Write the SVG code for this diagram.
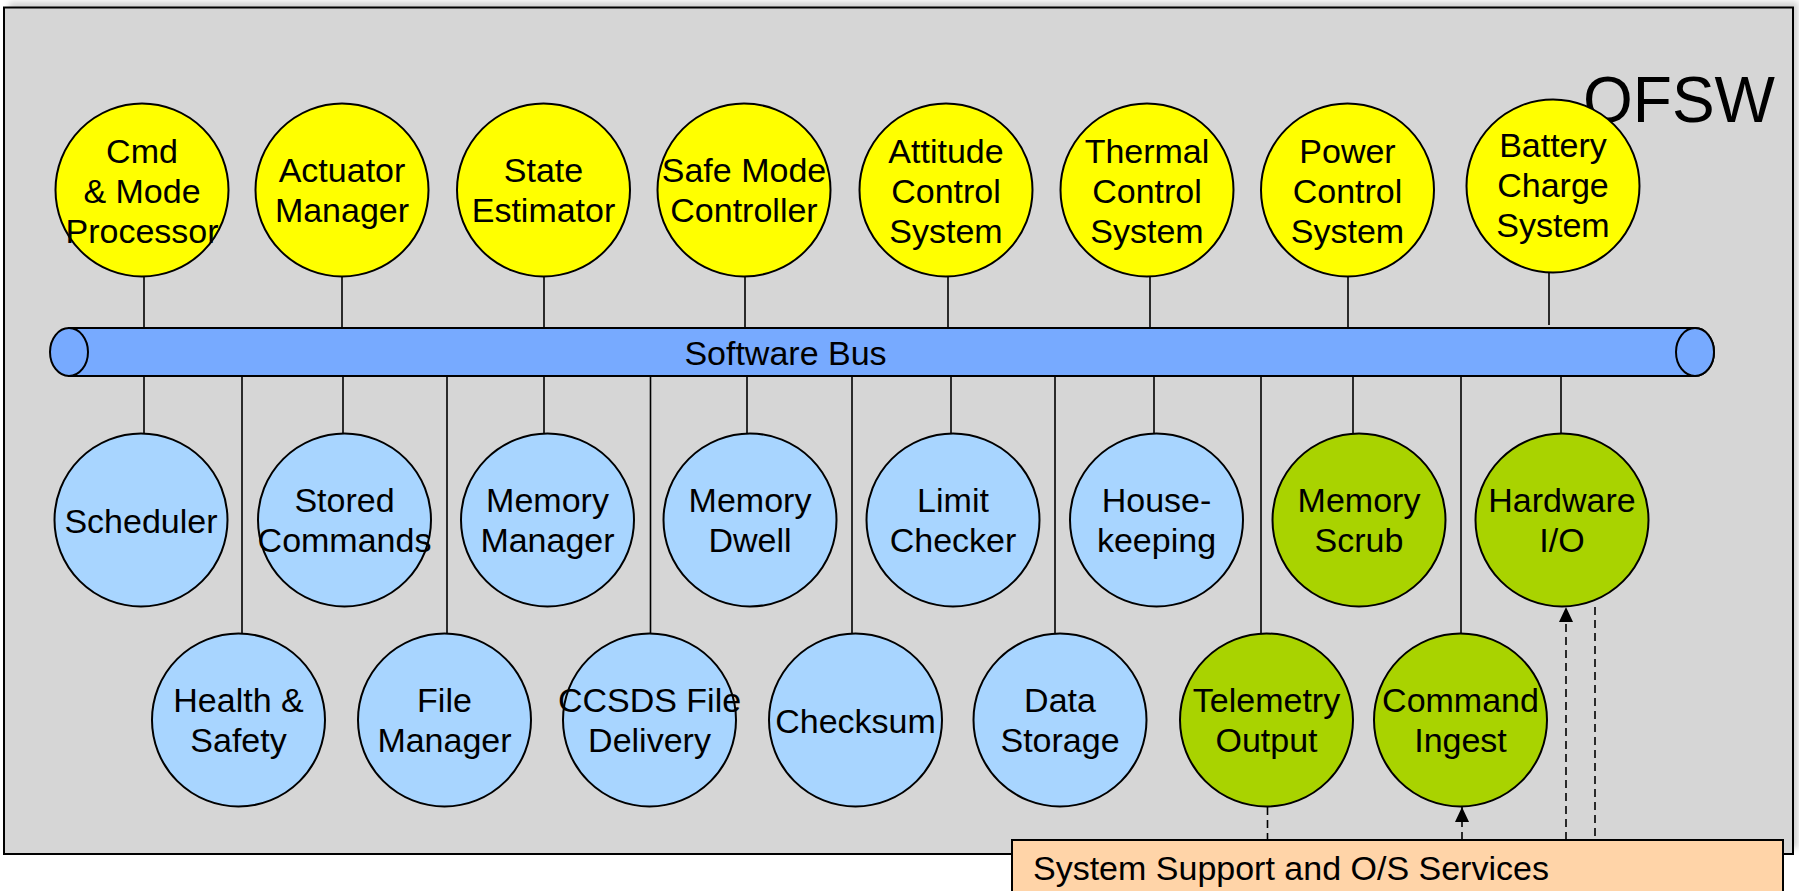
<svg xmlns="http://www.w3.org/2000/svg" width="1799" height="891" viewBox="0 0 1799 891">
  <defs>
    <style>
      text { font-family: "Liberation Sans", Arial, sans-serif; fill: #000; }
      .lbl { font-size: 34px; text-anchor: middle; }
      .node { stroke: #000; stroke-width: 2; }
      .fsw { fill: #FFFF00; }
      .svc { fill: #A8D5FF; }
      .io { fill: #A9D300; }
      .wire { stroke: #000; stroke-width: 1.6; fill: none; }
      .dash { stroke: #000; stroke-width: 1.6; fill: none; stroke-dasharray: 8 5; }
    </style>
    <filter id="soft" x="-5%" y="-5%" width="110%" height="110%">
      <feGaussianBlur stdDeviation="3"/>
    </filter>
    <marker id="tip" markerWidth="16" markerHeight="14" refX="15" refY="7" orient="auto" markerUnits="userSpaceOnUse">
      <path d="M0,0 L15,7 L0,14 Z" fill="#000"/>
    </marker>
  </defs>

  <rect width="1799" height="891" fill="#FFFFFF"/>

  <!-- OFSW frame -->
  <g id="ofsw">
    <rect x="9" y="2" width="1789" height="846" fill="#9a9a9a" opacity="0.45" filter="url(#soft)"/>
    <rect x="4" y="7.5" width="1789" height="846.5" fill="#D6D6D6" stroke="#000" stroke-width="2"/>
    <text x="1583" y="122" font-size="64">OFSW</text>
  </g>

  <!-- connectors -->
  <g id="connectors">
    <path class="wire" d="M144,276V328 M342,276V328 M544,276V328 M745,276V328 M948,276V328 M1150,276V328 M1348,276V328 M1549,273V325"/>
    <path class="wire" d="M144,376V433 M242,376V633 M343,376V433 M447,376V633 M544,376V433 M650.5,376V633 M747,376V433 M852,376V633 M951,376V433 M1055,376V633 M1154,376V433 M1261,376V633 M1353,376V433 M1461,376V633 M1561,376V433"/>
    <line class="dash" x1="1267.5" y1="807" x2="1267.5" y2="840"/>
    <line class="dash" x1="1462" y1="840" x2="1462" y2="807" marker-end="url(#tip)"/>
    <line class="dash" x1="1566" y1="840" x2="1566" y2="607" marker-end="url(#tip)"/>
    <line class="dash" x1="1595" y1="607" x2="1595" y2="840"/>
  </g>

  <!-- Software Bus cylinder -->
  <g id="bus">
    <path d="M69,328 H1695 A19,24 0 0 1 1695,376 H69 Z" fill="#77AAFF" stroke="#000" stroke-width="2"/>
    <ellipse cx="69" cy="352" rx="19" ry="24" fill="#77AAFF" stroke="#000" stroke-width="2"/>
    <ellipse cx="1695" cy="352" rx="19" ry="24" fill="#77AAFF" stroke="#000" stroke-width="2"/>
    <text class="lbl" x="785.5" y="365">Software Bus</text>
  </g>

  <!-- application row -->
  <g id="cmd-mode-processor">
    <circle class="node fsw" cx="142" cy="190" r="86.5"/>
    <text class="lbl" x="142" y="163">Cmd</text>
    <text class="lbl" x="142" y="203">&amp; Mode</text>
    <text class="lbl" x="142" y="243">Processor</text>
  </g>
  <g id="actuator-manager">
    <circle class="node fsw" cx="342" cy="190" r="86.5"/>
    <text class="lbl" x="342" y="182">Actuator</text>
    <text class="lbl" x="342" y="222">Manager</text>
  </g>
  <g id="state-estimator">
    <circle class="node fsw" cx="543.5" cy="190" r="86.5"/>
    <text class="lbl" x="543.5" y="182">State</text>
    <text class="lbl" x="543.5" y="222">Estimator</text>
  </g>
  <g id="safe-mode-controller">
    <circle class="node fsw" cx="744" cy="190" r="86.5"/>
    <text class="lbl" x="744" y="182">Safe Mode</text>
    <text class="lbl" x="744" y="222">Controller</text>
  </g>
  <g id="attitude-control">
    <circle class="node fsw" cx="946" cy="190" r="86.5"/>
    <text class="lbl" x="946" y="163">Attitude</text>
    <text class="lbl" x="946" y="203">Control</text>
    <text class="lbl" x="946" y="243">System</text>
  </g>
  <g id="thermal-control">
    <circle class="node fsw" cx="1147" cy="190" r="86.5"/>
    <text class="lbl" x="1147" y="163">Thermal</text>
    <text class="lbl" x="1147" y="203">Control</text>
    <text class="lbl" x="1147" y="243">System</text>
  </g>
  <g id="power-control">
    <circle class="node fsw" cx="1347.5" cy="190" r="86.5"/>
    <text class="lbl" x="1347.5" y="163">Power</text>
    <text class="lbl" x="1347.5" y="203">Control</text>
    <text class="lbl" x="1347.5" y="243">System</text>
  </g>
  <g id="battery-charge">
    <circle class="node fsw" cx="1553" cy="186" r="86.5"/>
    <text class="lbl" x="1553" y="157">Battery</text>
    <text class="lbl" x="1553" y="197">Charge</text>
    <text class="lbl" x="1553" y="237">System</text>
  </g>

  <!-- core services, upper row -->
  <g id="scheduler">
    <circle class="node svc" cx="141" cy="520" r="86.5"/>
    <text class="lbl" x="141" y="533">Scheduler</text>
  </g>
  <g id="stored-commands">
    <circle class="node svc" cx="344.5" cy="520" r="86.5"/>
    <text class="lbl" x="344.5" y="512">Stored</text>
    <text class="lbl" x="344.5" y="552">Commands</text>
  </g>
  <g id="memory-manager">
    <circle class="node svc" cx="547.5" cy="520" r="86.5"/>
    <text class="lbl" x="547.5" y="512">Memory</text>
    <text class="lbl" x="547.5" y="552">Manager</text>
  </g>
  <g id="memory-dwell">
    <circle class="node svc" cx="750" cy="520" r="86.5"/>
    <text class="lbl" x="750" y="512">Memory</text>
    <text class="lbl" x="750" y="552">Dwell</text>
  </g>
  <g id="limit-checker">
    <circle class="node svc" cx="953" cy="520" r="86.5"/>
    <text class="lbl" x="953" y="512">Limit</text>
    <text class="lbl" x="953" y="552">Checker</text>
  </g>
  <g id="housekeeping">
    <circle class="node svc" cx="1156.5" cy="520" r="86.5"/>
    <text class="lbl" x="1156.5" y="512">House-</text>
    <text class="lbl" x="1156.5" y="552">keeping</text>
  </g>
  <g id="memory-scrub">
    <circle class="node io" cx="1359" cy="520" r="86.5"/>
    <text class="lbl" x="1359" y="512">Memory</text>
    <text class="lbl" x="1359" y="552">Scrub</text>
  </g>
  <g id="hardware-io">
    <circle class="node io" cx="1562" cy="520" r="86.5"/>
    <text class="lbl" x="1562" y="512">Hardware</text>
    <text class="lbl" x="1562" y="552">I/O</text>
  </g>

  <!-- core services, lower row -->
  <g id="health-safety">
    <circle class="node svc" cx="238.5" cy="720" r="86.5"/>
    <text class="lbl" x="238.5" y="712">Health &amp;</text>
    <text class="lbl" x="238.5" y="752">Safety</text>
  </g>
  <g id="file-manager">
    <circle class="node svc" cx="444.5" cy="720" r="86.5"/>
    <text class="lbl" x="444.5" y="712">File</text>
    <text class="lbl" x="444.5" y="752">Manager</text>
  </g>
  <g id="ccsds-file-delivery">
    <circle class="node svc" cx="649.5" cy="720" r="86.5"/>
    <text class="lbl" x="649.5" y="712">CCSDS File</text>
    <text class="lbl" x="649.5" y="752">Delivery</text>
  </g>
  <g id="checksum">
    <circle class="node svc" cx="855.5" cy="720" r="86.5"/>
    <text class="lbl" x="855.5" y="733">Checksum</text>
  </g>
  <g id="data-storage">
    <circle class="node svc" cx="1060" cy="720" r="86.5"/>
    <text class="lbl" x="1060" y="712">Data</text>
    <text class="lbl" x="1060" y="752">Storage</text>
  </g>
  <g id="telemetry-output">
    <circle class="node io" cx="1266.5" cy="720" r="86.5"/>
    <text class="lbl" x="1266.5" y="712">Telemetry</text>
    <text class="lbl" x="1266.5" y="752">Output</text>
  </g>
  <g id="command-ingest">
    <circle class="node io" cx="1460.5" cy="720" r="86.5"/>
    <text class="lbl" x="1460.5" y="712">Command</text>
    <text class="lbl" x="1460.5" y="752">Ingest</text>
  </g>

  <!-- platform layer -->
  <g id="system-support">
    <rect x="1012" y="840" width="771" height="70" fill="#FFD4A8" stroke="#000" stroke-width="2"/>
    <text x="1033" y="880" font-size="34">System Support and O/S Services</text>
  </g>
</svg>
